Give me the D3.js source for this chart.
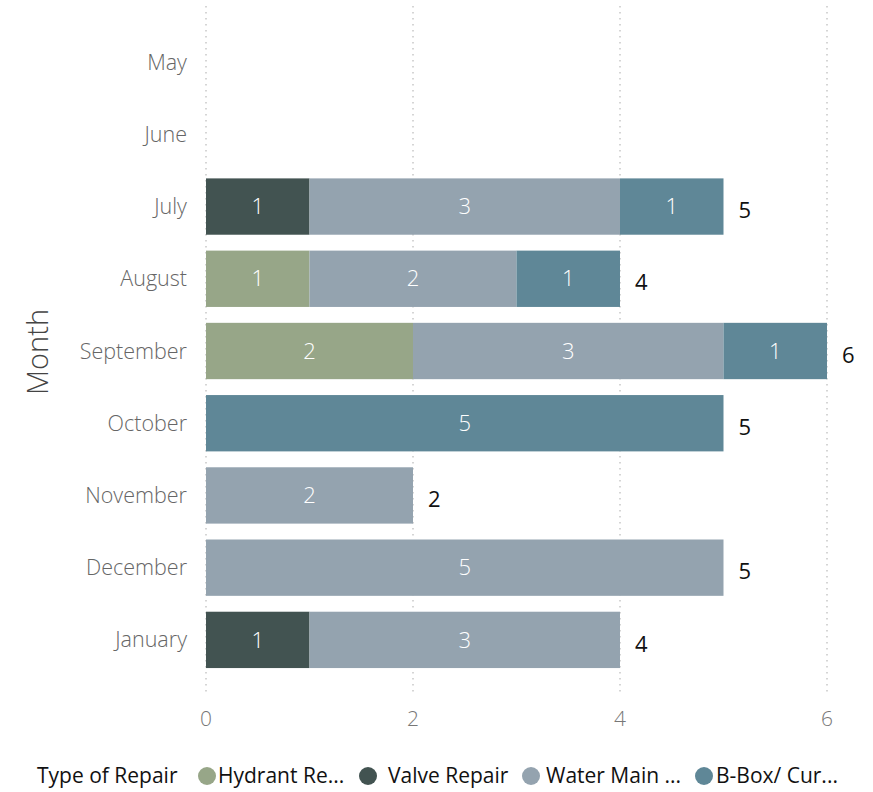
<!DOCTYPE html>
<html>
<head>
<meta charset="utf-8">
<script src="https://cdn.jsdelivr.net/npm/d3@7"></script>
<style>
  body { margin: 0; background: #fff; }
  svg { font-family: "Open Sans", "Segoe UI", sans-serif; }
</style>
</head>
<body>
<svg id="chart" width="873" height="792"></svg>
<script>
var months = ['May', 'June', 'July', 'August', 'September', 'October', 'November', 'December', 'January'];
var seriesNames = ['Hydrant Re...', 'Valve Repair', 'Water Main ...', 'B-Box/ Cur...'];
var seriesColors = ['#97a688', '#425351', '#94a3af', '#5f8797'];
var hydrant = [0, 0, 0, 1, 2, 0, 0, 0, 0];
var valve = [0, 0, 1, 0, 0, 0, 0, 0, 1];
var waterMain = [0, 0, 3, 2, 3, 0, 2, 5, 3];
var bBox = [0, 0, 1, 1, 1, 5, 0, 0, 0];
var xTicks = [0, 2, 4, 6];

var svg = d3.select('#chart');

// build rows for the stack layout
var rows = months.map(function (m, i) {
  return { month: m, s0: hydrant[i], s1: valve[i], s2: waterMain[i], s3: bBox[i] };
});
var keys = ['s0', 's1', 's2', 's3'];
var stacked = d3.stack().keys(keys)(rows);

var x = d3.scaleLinear().domain([0, 6]).range([206, 827]);
var y = d3.scaleBand().domain(months).range([26, 676]).paddingInner(0.22).paddingOuter(0.11);

// dotted gridlines
svg.append('g').selectAll('line')
  .data(xTicks)
  .enter().append('line')
  .attr('x1', function (d) { return x(d); })
  .attr('x2', function (d) { return x(d); })
  .attr('y1', 6)
  .attr('y2', 692)
  .attr('stroke', '#c8c8c8')
  .attr('stroke-width', 1.5)
  .attr('stroke-dasharray', '1.5,4.5');

// x axis tick labels
svg.append('g').selectAll('text')
  .data(xTicks)
  .enter().append('text')
  .attr('x', function (d) { return x(d); })
  .attr('y', 726)
  .attr('text-anchor', 'middle')
  .attr('fill', '#777')
  .attr('font-size', 21)
  .attr('font-weight', 300)
  .text(function (d) { return d; });

// y axis category labels
svg.append('g').selectAll('text')
  .data(months)
  .enter().append('text')
  .attr('x', 187)
  .attr('y', function (d) { return y(d) + y.bandwidth() / 2; })
  .attr('dy', '0.35em')
  .attr('text-anchor', 'end')
  .attr('fill', '#666')
  .attr('font-size', 21.5)
  .attr('font-weight', 300)
  .text(function (d) { return d; });

svg.append('text')
  .attr('transform', 'translate(48,352) rotate(-90)')
  .attr('text-anchor', 'middle')
  .attr('fill', '#444')
  .attr('font-size', 29)
  .attr('font-weight', 300)
  .text('Month');

// bars
var layer = svg.append('g').selectAll('g')
  .data(stacked)
  .enter().append('g')
  .attr('fill', function (d, i) { return seriesColors[i]; });

layer.selectAll('rect')
  .data(function (d) { return d.filter(function (p) { return p[1] > p[0]; }); })
  .enter().append('rect')
  .attr('x', function (d) { return x(d[0]); })
  .attr('y', function (d) { return y(d.data.month); })
  .attr('width', function (d) { return x(d[1]) - x(d[0]); })
  .attr('height', y.bandwidth());

layer.selectAll('text')
  .data(function (d) { return d.filter(function (p) { return p[1] > p[0]; }); })
  .enter().append('text')
  .attr('x', function (d) { return (x(d[0]) + x(d[1])) / 2; })
  .attr('y', function (d) { return y(d.data.month) + y.bandwidth() / 2; })
  .attr('dy', '0.35em')
  .attr('text-anchor', 'middle')
  .attr('fill', '#fff')
  .attr('font-size', 22)
  .attr('font-weight', 300)
  .text(function (d) { return d[1] - d[0]; });

// totals
svg.append('g').selectAll('text')
  .data(rows.filter(function (r) { return r.s0 + r.s1 + r.s2 + r.s3 > 0; }))
  .enter().append('text')
  .attr('x', function (r) { return x(r.s0 + r.s1 + r.s2 + r.s3) + 15; })
  .attr('y', function (r) { return y(r.month) + y.bandwidth() / 2 + 4; })
  .attr('dy', '0.35em')
  .attr('fill', '#111')
  .attr('font-size', 22)
  .text(function (r) { return r.s0 + r.s1 + r.s2 + r.s3; });

// legend
var legend = svg.append('g').attr('transform', 'translate(0,776)');
legend.append('text')
  .attr('x', 37)
  .attr('dy', '0.35em')
  .attr('fill', '#111')
  .attr('font-size', 21)
  .text('Type of Repair');

var legendX = [207, 368, 531, 704];
var legendTextX = [218, 388, 546, 716];
seriesNames.forEach(function (name, i) {
  legend.append('circle')
    .attr('cx', legendX[i])
    .attr('cy', 0)
    .attr('r', 9)
    .attr('fill', seriesColors[i]);
  legend.append('text')
    .attr('x', legendTextX[i])
    .attr('dy', '0.35em')
    .attr('fill', '#111')
    .attr('font-size', 21)
    .text(name);
});
</script>
</body>
</html>
